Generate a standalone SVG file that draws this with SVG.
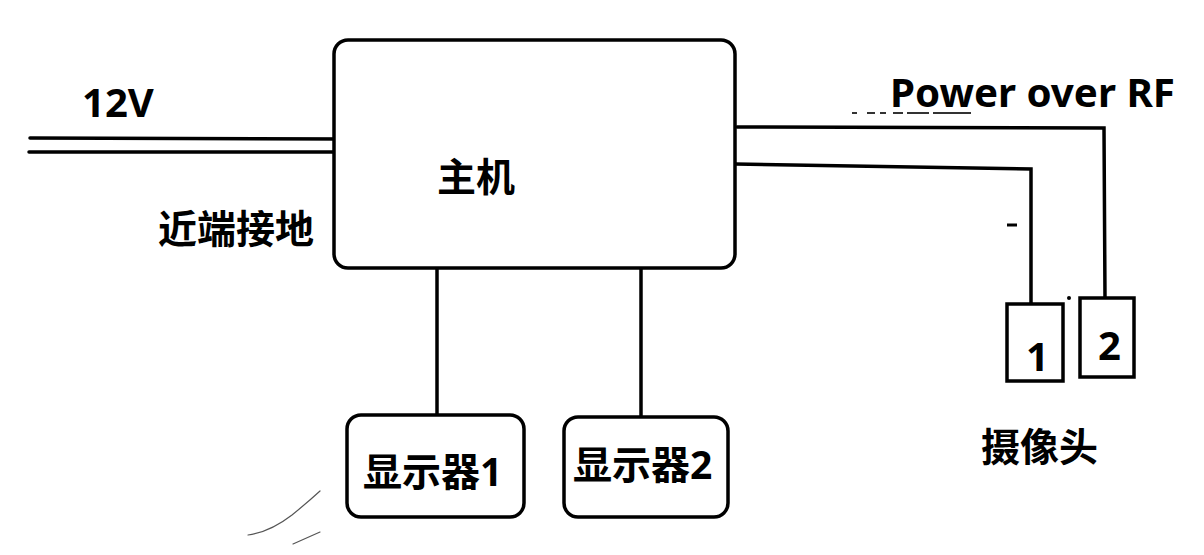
<svg xmlns="http://www.w3.org/2000/svg" width="1204" height="555" viewBox="0 0 1204 555">
<style>
.box{fill:#fff;stroke:#000;stroke-width:3.5}
.w{fill:none;stroke:#000;stroke-width:3.5;stroke-linecap:round;stroke-linejoin:miter}
.t{font-family:"Noto Sans","Noto Sans CJK SC",sans-serif;font-weight:bold;fill:#000}
.m{fill:none;stroke:#555;stroke-width:1.2;stroke-linecap:round}
</style>
<rect width="1204" height="555" fill="#fff"/>
<g id="connectors">
<line class="w" x1="30" y1="138" x2="347" y2="139"/>
<line class="w" x1="29" y1="152" x2="334" y2="152"/>
<line class="w" x1="437" y1="268" x2="437" y2="415"/>
<line class="w" x1="641" y1="268" x2="641" y2="417"/>
<polyline class="w" points="737,127 1104,128 1105,298"/>
<polyline class="w" points="735,164 1031,169 1031,304"/>
</g>
<g id="host">
<rect class="box" x="334" y="40" width="401" height="228" rx="14"/>
<text class="t" x="437" y="191" font-size="39">主机</text>
</g>
<g id="display1">
<rect class="box" x="347" y="415" width="177" height="102" rx="14"/>
<text class="t" x="363" y="486" font-size="39">显示器1</text>
</g>
<g id="display2">
<rect class="box" x="564" y="417" width="164" height="100" rx="14"/>
<text class="t" x="573" y="479" font-size="39">显示器2</text>
</g>
<g id="camera1">
<rect class="box" x="1007" y="304" width="56" height="77"/>
<text class="t" x="1026" y="371" font-size="40">1</text>
</g>
<g id="camera2">
<rect class="box" x="1080" y="298" width="54" height="79"/>
<text class="t" x="1098" y="360" font-size="40">2</text>
</g>
<g id="labels">
<text class="t" x="82" y="117" font-size="40">12V</text>
<text class="t" x="158" y="243" font-size="39">近端接地</text>
<text class="t" x="890" y="107" font-size="40" textLength="285" lengthAdjust="spacingAndGlyphs">Power over RF</text>
<text class="t" x="981" y="461" font-size="39">摄像头</text>
</g>
<g id="marks">
<line x1="1007" y1="225" x2="1017" y2="225" stroke="#000" stroke-width="3"/>
<circle cx="1069" cy="298" r="2" fill="#000"/>
<path d="M852 113h5M867 113h8M880 113h6M893 113h10M907 113h22M933 113h38" stroke="#333" stroke-width="2.2" fill="none"/>
<path class="m" d="M248 535 Q270 532 292 515 Q308 502 320 491"/>
<path class="m" d="M293 544 L320 532"/>
</g>
</svg>
